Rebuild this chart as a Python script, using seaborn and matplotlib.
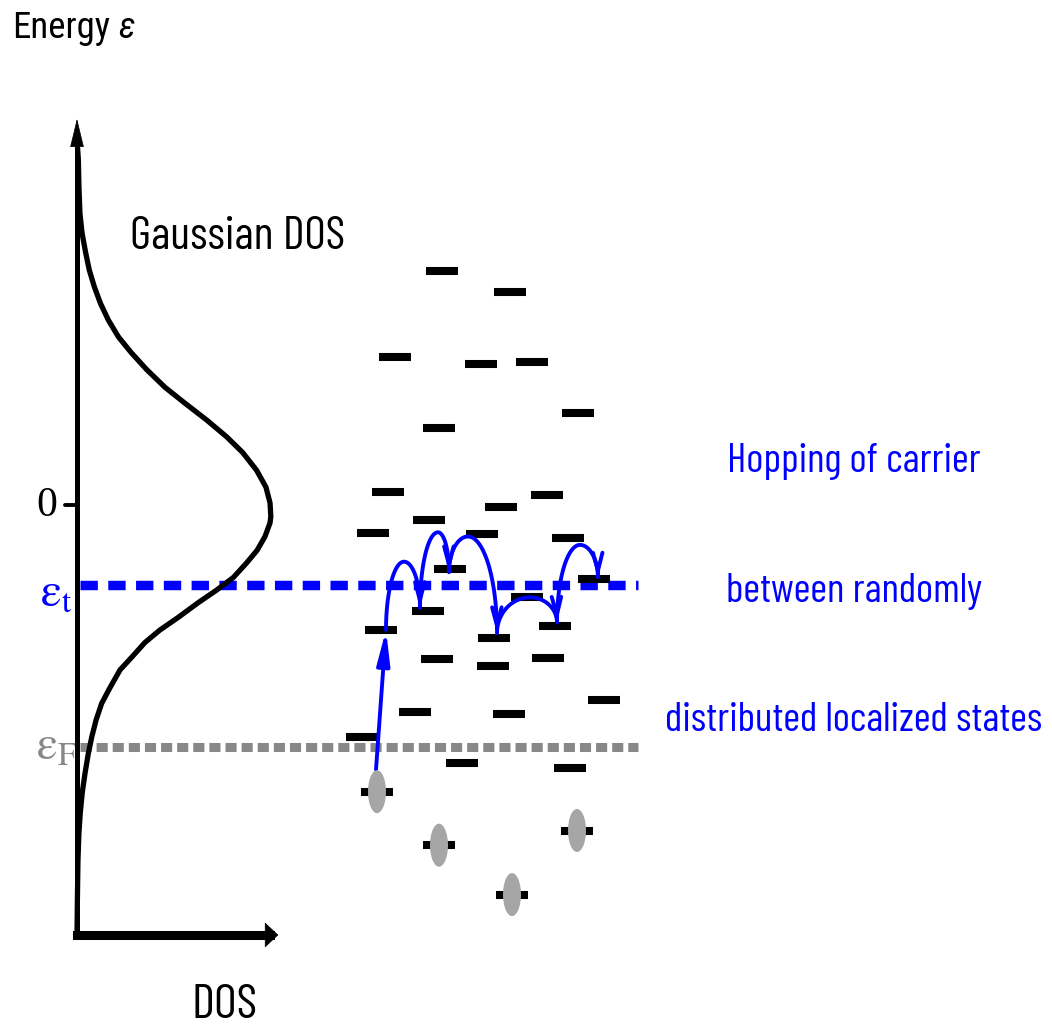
import numpy as np
import pandas as pd
import matplotlib
matplotlib.use("Agg")
import matplotlib.pyplot as plt
import seaborn as sns
from matplotlib.patches import FancyArrowPatch, Ellipse
from matplotlib.path import Path

# ---------------- data ----------------
# Gaussian DOS curve: energy (units of sigma) and normalised DOS
dos_energy = [3.48, 3.29, 3.03, 2.78, 2.59, 2.40, 2.24, 2.08, 1.92, 1.76, 1.60,
              1.45, 1.29, 1.12, 0.97, 0.81, 0.65, 0.50, 0.33, 0.17, 0.02,
              -0.11, -0.17, -0.30, -0.43, -0.55, -0.69, -0.81, -0.93, -1.07,
              -1.19, -1.31, -1.45, -1.57, -1.74, -1.89, -2.05, -2.21, -2.37,
              -2.56, -2.74, -2.93, -3.12, -3.38, -3.76, -4.10]
dos_value = [0.000, 0.007, 0.010, 0.015, 0.026, 0.045, 0.063, 0.089, 0.121,
             0.162, 0.214, 0.280, 0.359, 0.454, 0.556, 0.668, 0.771, 0.854,
             0.926, 0.974, 0.995, 0.999, 0.995, 0.969, 0.929, 0.875, 0.806,
             0.720, 0.625, 0.522, 0.428, 0.350, 0.282, 0.222, 0.170, 0.127,
             0.098, 0.076, 0.058, 0.041, 0.027, 0.017, 0.010, 0.005, 0.002,
             0.000]

# empty localized states: site position and energy
state_site = [442, 510, 395, 481, 532, 578, 439, 388, 501, 547, 429, 373, 482,
              568, 450, 594, 527, 428, 381, 555, 494, 437, 493, 548, 604, 415,
              509, 362, 462, 570]
state_energy = [2.23, 2.03, 1.41, 1.34, 1.36, 0.88, 0.73, 0.12, -0.02, 0.10,
                -0.14, -0.27, -0.28, -0.31, -0.61, -0.70, -0.88, -1.01, -1.19,
                -1.15, -1.27, -1.47, -1.53, -1.46, -1.86, -1.97, -1.99, -2.21,
                -2.46, -2.50]

# occupied states (carriers)
occupied_site = [377, 439, 512, 577]
occupied_energy = [-2.73, -3.24, -3.71, -3.10]

# characteristic energies
eps_zero = 0.0
eps_t = -0.76
eps_F = -2.30

# hopping path of the carrier
hop_site = [376, 386, 420, 449, 497, 557, 598]
hop_energy = [-2.52, -1.19, -0.98, -0.64, -1.22, -1.12, -0.70]
apex_site = [404, 438, 468, 530, 580]
apex_energy = [-0.54, -0.26, -0.30, -0.88, -0.38]

# texts
ylabel_text = "Energy"
ylabel_symbol = "ε"
xlabel_text = "DOS"
curve_label = "Gaussian DOS"
note_lines = ["Hopping of carrier", "between randomly",
              "distributed localized states"]

# ---------------- style ----------------
sns.set_theme(style="white")
SANS = ["Roboto Condensed", "Archivo Narrow", "Liberation Sans", "DejaVu Sans"]
NARROW = ["Barlow Condensed", "Roboto Condensed", "Liberation Sans",
          "DejaVu Sans"]
plt.rcParams["font.family"] = SANS
plt.rcParams["mathtext.fontset"] = "stix"

BLUE = "#0000ff"
GREY = "#888888"
DOT = "#a6a6a6"

W, H = 1052, 1032
PX_PER_SIGMA = 105.0
ZERO_PX = 505.0


def Y(py):
    """vertical pixel position -> energy units"""
    return (ZERO_PX - py) / PX_PER_SIGMA


ylim = (Y(H), Y(0))

fig = plt.figure(figsize=(W / 100, H / 100), dpi=100)
fig.patch.set_facecolor("white")
renderer = fig.canvas.get_renderer()

ax = fig.add_axes([0, 0, 1, 1])
ax.set_xlim(0, W)
ax.set_ylim(*ylim)
ax.axis("off")

AX0 = 77
ax_dos = fig.add_axes([AX0 / W, 0, 194 / W, 1])
ax_dos.set_xlim(0, 1)
ax_dos.set_ylim(*ylim)
ax_dos.axis("off")
ax_dos.patch.set_alpha(0)

# ---------------- DOS panel ----------------
df_dos = pd.DataFrame({"dos": dos_value, "energy": dos_energy})
sns.lineplot(data=df_dos, x="dos", y="energy", sort=False, estimator=None,
             ax=ax_dos, color="black", lw=3.8, zorder=3)
for ln in ax_dos.lines:
    ln.set_clip_on(False)
    ln.set_solid_capstyle("round")
    ln.set_solid_joinstyle("round")

y_base = Y(935)
# vertical axis
ax_dos.plot([0, 0], [y_base, Y(135)], color="black", lw=3.6,
            solid_capstyle="projecting", clip_on=False, zorder=4)
ax_dos.add_patch(FancyArrowPatch((0, Y(150)), (0, Y(116)),
                                 arrowstyle="-|>,head_length=19,head_width=4.6",
                                 mutation_scale=1, lw=0.5, color="black",
                                 clip_on=False, zorder=4))
# horizontal axis
x_tip = (281 - AX0) / 194
x_end = (270 - AX0) / 194
ax_dos.plot([0, x_end], [y_base, y_base], color="black", lw=6.5,
            solid_capstyle="projecting", clip_on=False, zorder=4)
ax_dos.add_patch(FancyArrowPatch(((255 - AX0) / 194, y_base), (x_tip, y_base),
                                 arrowstyle="-|>,head_length=9,head_width=8.5",
                                 mutation_scale=1, lw=0.5, color="black",
                                 clip_on=False, zorder=4))
# tick at zero
ax_dos.plot([-12 / 194, 0], [eps_zero, eps_zero], color="black", lw=2.8,
            clip_on=False, zorder=4)

# ---------------- reference energy lines ----------------
plt.rcParams["lines.scale_dashes"] = False
ax.plot([AX0 + 3, 638], [eps_t, eps_t], color=BLUE, lw=6.8,
        dashes=(12.5, 7.5), dash_capstyle="butt", zorder=5)
ax.plot([AX0 + 3, 638], [eps_F, eps_F], color=GREY, lw=6.5,
        dashes=(8.0, 3.6), dash_capstyle="butt", zorder=5)

# ---------------- localized states ----------------
HALF = 16
ax.hlines(state_energy, [s - HALF for s in state_site],
          [s + HALF for s in state_site], color="black", lw=5.8, zorder=6)
ax.hlines(occupied_energy, [s - HALF for s in occupied_site],
          [s + HALF for s in occupied_site], color="black", lw=5.8, zorder=6)
for s, e in zip(occupied_site, occupied_energy):
    ax.add_patch(Ellipse((s, e), width=18, height=43 / PX_PER_SIGMA,
                         facecolor=DOT, edgecolor="none", zorder=9))

# ---------------- hopping path ----------------
ax.add_patch(FancyArrowPatch((hop_site[0], hop_energy[0]),
                             (hop_site[1], hop_energy[1]),
                             arrowstyle="-|>,head_length=20,head_width=3.8",
                             mutation_scale=1, lw=2.8, color=BLUE,
                             shrinkA=0, shrinkB=0, zorder=8))


def arc_path(x0, y0, xa, ya, x1, y1, n=40):
    th = np.linspace(0, np.pi / 2, n)
    xl = xa - (xa - x0) * np.cos(th)
    yl = y0 + (ya - y0) * np.sin(th)
    ph = np.linspace(np.pi / 2, 0, n)[1:]
    xr = xa + (x1 - xa) * np.cos(ph)
    yr = y1 + (ya - y1) * np.sin(ph)
    return np.column_stack([np.r_[xl, xr], np.r_[yl, yr]])


for i in range(len(apex_site)):
    verts = arc_path(hop_site[i + 1], hop_energy[i + 1],
                     apex_site[i], apex_energy[i],
                     hop_site[i + 2], hop_energy[i + 2])
    ax.add_patch(FancyArrowPatch(path=Path(verts),
                                 arrowstyle="->,head_length=13,head_width=3.4",
                                 mutation_scale=1, lw=2.8, color=BLUE,
                                 zorder=8))


# ---------------- texts ----------------
def fit_size(txt, width_px, **kw):
    t = fig.text(0, 0, txt, fontsize=100, **kw)
    w = t.get_window_extent(renderer=renderer).width
    t.remove()
    return 100.0 * width_px / w


def baseline_for(center_px, size_pt):
    cap = 0.70 * size_pt * 100 / 72
    return center_px + cap / 2


s_en = fit_size(ylabel_text, 98)
b_en = baseline_for(25, s_en)
t_en = ax.text(12, Y(b_en), ylabel_text, fontsize=s_en, ha="left",
               va="baseline", color="black")
bb = t_en.get_window_extent(renderer=renderer)
ax.text(max(bb.x1 + 8, 118), Y(b_en), ylabel_symbol, fontsize=s_en,
        style="italic", ha="left", va="baseline", color="black")

s_g = fit_size(curve_label, 215, family=NARROW)
ax.text(130, Y(baseline_for(233, s_g)), curve_label, fontsize=s_g,
        family=NARROW, ha="left", va="baseline", color="black")

s_d = min(fit_size(xlabel_text, 66, family=NARROW), s_g * 1.1)
ax.text(225, Y(baseline_for(1001, s_d)), xlabel_text, fontsize=s_d,
        family=NARROW, ha="center", va="baseline", color="black")

ax.text(47, Y(516), "0", fontsize=30, ha="center", va="baseline",
        family=["Liberation Serif", "DejaVu Serif"], color="black")
ax.text(40, Y(607), r"$\mathrm{\varepsilon}_{\mathrm{t}}$", fontsize=34,
        ha="left", va="baseline", color=BLUE)
ax.text(36, Y(760), r"$\mathrm{\varepsilon}_{\mathrm{F}}$", fontsize=34,
        ha="left", va="baseline", color=GREY)

s_n = fit_size(note_lines[2], 378, family=NARROW)
for txt, center in zip(note_lines, [458, 588, 717]):
    ax.text(854, Y(baseline_for(center, s_n)), txt, fontsize=s_n,
            family=NARROW, ha="center", va="baseline", color=BLUE)

fig.savefig("out.png", dpi=100, facecolor="white")
